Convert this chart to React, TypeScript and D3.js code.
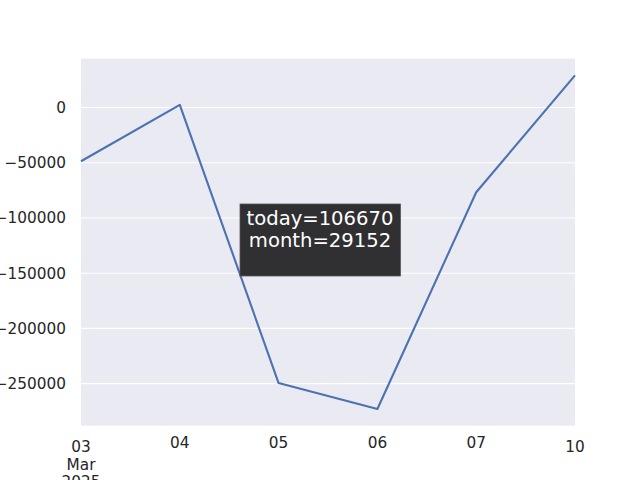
import { useEffect, useRef } from "react";
import * as d3 from "d3";

// business days, Mar 2025
const dayLabels = ["03", "04", "05", "06", "07", "10"];
const majorLabels = [["03", "Mar", "2025"], null, null, null, null, ["10"]];
const values = [-48600, 2500, -249500, -273000, -76700, 29152];
const yTicks = [0, -50000, -100000, -150000, -200000, -250000];
const infoLines = ["today=106670", "month=29152"];

const App = () => {
  const chartRef = useRef<SVGSVGElement | null>(null);

  useEffect(() => {
    if (!chartRef.current) return;
    const width = 640;
    const height = 480;
    const margin = { top: 58.7, right: 65, bottom: 54.3, left: 81 };
    const font = "'DejaVu Sans', sans-serif";

    const svg = d3.select(chartRef.current);
    svg.selectAll("*").remove();

    const x = d3
      .scaleLinear()
      .domain([0, dayLabels.length - 1])
      .range([margin.left, width - margin.right]);

    const yMin = d3.min(values) as number;
    const yMax = d3.max(values) as number;
    const pad = (yMax - yMin) * 0.05;
    const y = d3
      .scaleLinear()
      .domain([yMin - pad, yMax + pad])
      .range([height - margin.bottom, margin.top]);

    // plot background
    svg
      .append("rect")
      .attr("x", margin.left)
      .attr("y", margin.top)
      .attr("width", width - margin.left - margin.right)
      .attr("height", height - margin.top - margin.bottom)
      .attr("fill", "#eaeaf2");

    // horizontal grid
    svg
      .append("g")
      .selectAll("line")
      .data(yTicks)
      .join("line")
      .attr("x1", margin.left)
      .attr("x2", width - margin.right)
      .attr("y1", (d) => y(d))
      .attr("y2", (d) => y(d))
      .attr("stroke", "#ffffff")
      .attr("stroke-width", 1.1);

    // y axis
    const yAxis = svg
      .append("g")
      .attr("transform", `translate(${margin.left},0)`)
      .call(
        d3
          .axisLeft(y)
          .tickValues(yTicks)
          .tickSize(0)
          .tickPadding(15)
          .tickFormat((d) => {
            const v = d as number;
            return v < 0 ? "\u2212" + Math.abs(v) : String(v);
          })
      );
    yAxis.select(".domain").remove();
    yAxis
      .selectAll("text")
      .attr("fill", "#262626")
      .style("font-family", font)
      .style("font-size", "15.3px");

    // x tick labels
    const xg = svg.append("g");
    dayLabels.forEach((lab, i) => {
      const major = majorLabels[i];
      const lines = major ?? [lab];
      const base = major ? 451.8 : 448;
      const t = xg
        .append("text")
        .attr("x", x(i))
        .attr("text-anchor", "middle")
        .attr("fill", "#262626")
        .style("font-family", font)
        .style("font-size", "15.3px");
      lines.forEach((ln, j) => {
        t.append("tspan")
          .attr("x", x(i))
          .attr("y", base + j * 17.7)
          .text(ln);
      });
    });

    // line
    const line = d3
      .line<number>()
      .x((_, i) => x(i))
      .y((d) => y(d));

    svg
      .append("path")
      .datum(values)
      .attr("d", line)
      .attr("fill", "none")
      .attr("stroke", "#4c72b0")
      .attr("stroke-width", 2.1)
      .attr("stroke-linejoin", "round");

    // info box at figure centre
    const cx = width / 2;
    const cy = height / 2;
    svg
      .append("rect")
      .attr("x", cx - 80)
      .attr("y", cy - 36)
      .attr("width", 160.5)
      .attr("height", 72)
      .attr("fill", "#303032")
      .attr("stroke", "#555558")
      .attr("stroke-width", 0.8);

    svg
      .append("g")
      .selectAll("text")
      .data(infoLines)
      .join("text")
      .attr("x", cx)
      .attr("y", (_, i) => cy - 15.5 + i * 22.5)
      .attr("text-anchor", "middle")
      .attr("fill", "#ffffff")
      .style("font-family", font)
      .style("font-size", "19.6px")
      .text((d) => d);
  }, []);

  return (
    <svg
      ref={chartRef}
      width={640}
      height={480}
      style={{ position: "absolute", left: 0, top: 0, background: "#ffffff" }}
    />
  );
};

export default App;
